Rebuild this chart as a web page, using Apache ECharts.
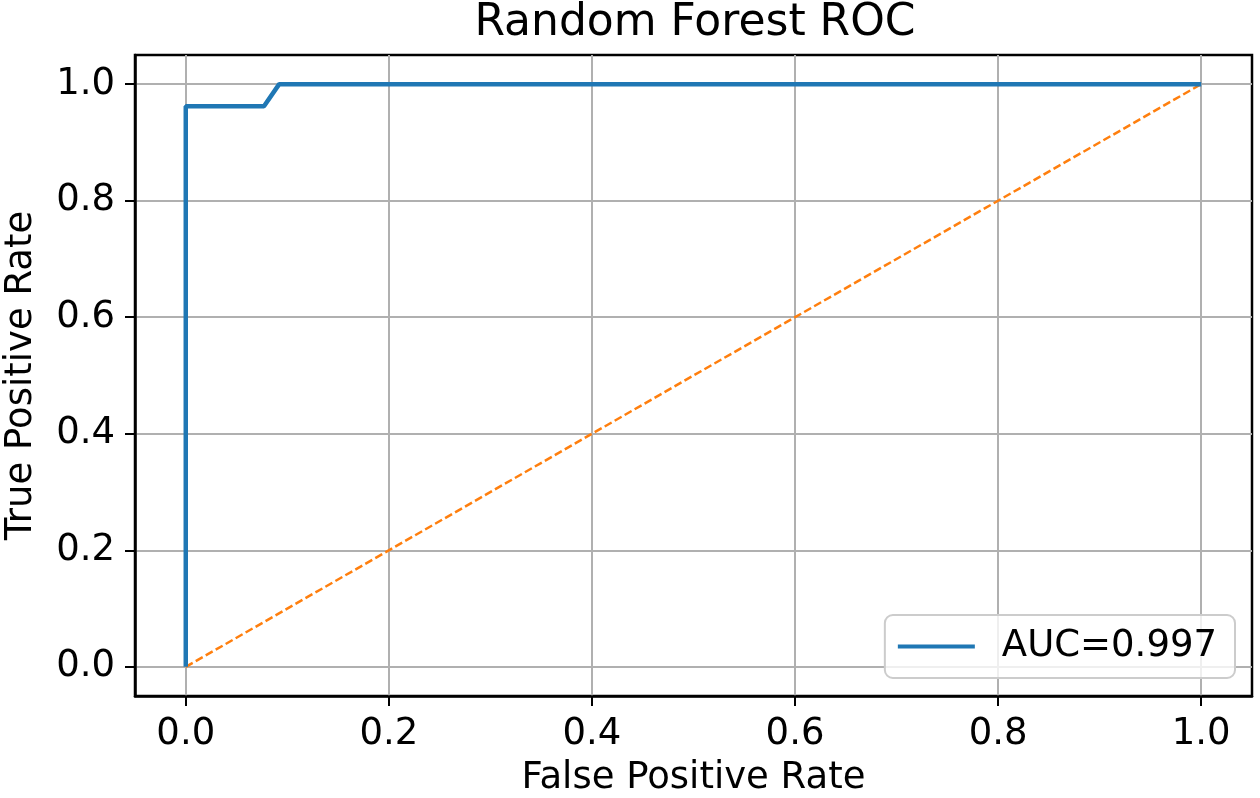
<!DOCTYPE html>
<html>
<head>
<meta charset="utf-8">
<script src="https://cdn.jsdelivr.net/npm/echarts@6/dist/echarts.min.js"></script>
<style>
  html, body { margin: 0; padding: 0; background: #fff; }
  #chart { width: 1260px; height: 798px; }
</style>
</head>
<body>
<div id="chart"></div>
<script>
// ROC curve points
const fpr = [0, 0, 0.077, 0.092, 1];
const tpr = [0, 0.962, 0.962, 1, 1];
// chance line
const chanceX = [0, 1];
const chanceY = [0, 1];
const tickValues = [0, 0.2, 0.4, 0.6, 0.8, 1.0];
const legendName = 'AUC=0.997';

const font = 'DejaVu Sans';

const chart = echarts.init(document.getElementById('chart'));

const axisCommon = {
  type: 'value',
  min: -0.05,
  max: 1.05,
  nameLocation: 'middle',
  nameTextStyle: { fontFamily: font, fontSize: 37, color: '#000' },
  axisLine: { show: true, onZero: false, lineStyle: { color: '#000', width: 2.5 } },
  axisTick: { show: true, length: 10, customValues: tickValues, lineStyle: { color: '#000', width: 2 } },
  axisLabel: {
    customValues: tickValues,
    fontFamily: font, fontSize: 37, color: '#000',
    formatter: v => v.toFixed(1)
  },
  splitLine: { show: true, lineStyle: { color: '#b0b0b0', width: 2 } }
};

const option = {
  backgroundColor: '#fff',
  animation: false,
  title: {
    text: 'Random Forest ROC',
    left: 695,
    textAlign: 'center',
    top: 2,
    padding: 0,
    textStyle: { fontFamily: font, fontSize: 44, fontWeight: 'normal', color: '#000' }
  },
  grid: {
    left: 135, right: 8, top: 55, bottom: 102,
    show: true, borderColor: '#000', borderWidth: 2.5,
    containLabel: false,
    outerBoundsMode: 'none'
  },
  legend: {
    data: [legendName],
    right: 25,
    bottom: 120,
    icon: 'rect',
    itemWidth: 77,
    itemHeight: 4,
    padding: [13, 18, 13, 13],
    borderColor: '#cccccc',
    borderWidth: 2,
    borderRadius: 8,
    backgroundColor: 'rgba(255,255,255,0.8)',
    textStyle: { fontFamily: font, fontSize: 37, color: '#000', padding: [0, 0, 0, 22] }
  },
  xAxis: Object.assign({}, axisCommon, {
    name: 'False Positive Rate',
    nameGap: 64,
    axisLabel: Object.assign({}, axisCommon.axisLabel, { margin: 20 })
  }),
  yAxis: Object.assign({}, axisCommon, {
    name: 'True Positive Rate',
    nameGap: 95,
    axisLabel: Object.assign({}, axisCommon.axisLabel, { margin: 20 })
  }),
  series: [
    {
      name: legendName,
      type: 'line',
      data: fpr.map((x, i) => [x, tpr[i]]),
      showSymbol: false,
      symbol: 'none',
      lineStyle: { color: '#1f77b4', width: 4.5 },
      itemStyle: { color: '#1f77b4' },
      z: 3
    },
    {
      name: 'chance',
      type: 'line',
      data: chanceX.map((x, i) => [x, chanceY[i]]),
      showSymbol: false,
      symbol: 'none',
      lineStyle: { color: '#ff7f0e', width: 2.5, type: [8, 3.5] },
      itemStyle: { color: '#ff7f0e' },
      z: 2
    }
  ]
};

chart.setOption(option);
window.addEventListener('resize', () => chart.resize());
</script>
</body>
</html>
